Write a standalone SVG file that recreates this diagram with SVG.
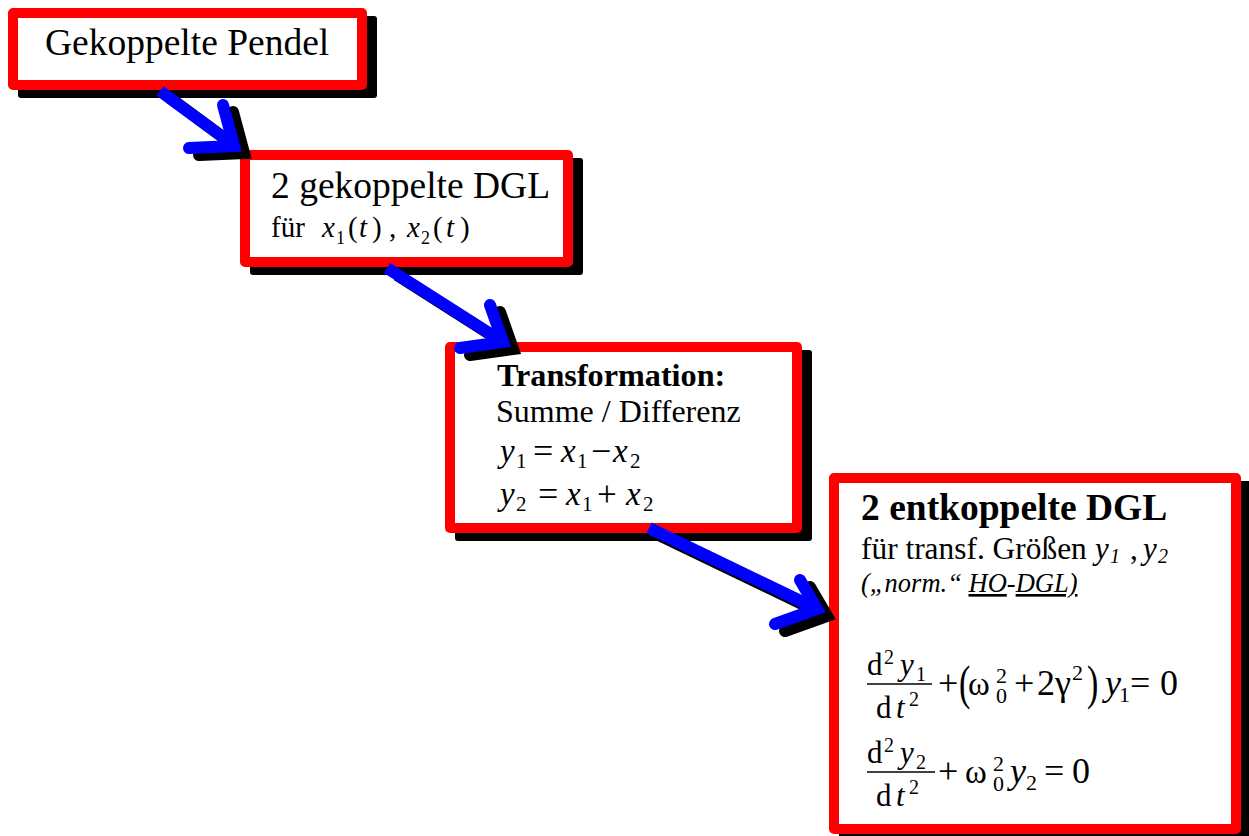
<svg xmlns="http://www.w3.org/2000/svg" width="1249" height="836" viewBox="0 0 1249 836">
<style>
.sh{fill:#000}
.bx{fill:#fff;stroke:#f00;stroke-width:10;stroke-linejoin:round}
text{font-family:"Liberation Serif","Times New Roman",serif;fill:#000}
.i{font-style:italic}
.b{font-weight:bold}
.shaft{fill:none;stroke-width:12;stroke-linecap:butt}
.head{fill:none;stroke-width:12;stroke-linecap:round;stroke-linejoin:miter;stroke-miterlimit:10}
.blue{stroke:#00f}
.blk{stroke:#000}
.frac{stroke:#000;stroke-width:1.4}
</style>
<rect width="1249" height="836" fill="#fff"/>

<g id="node-pendel">
  <rect class="sh" x="18" y="16" width="359" height="82" rx="3"/>
  <rect class="bx" x="13" y="13" width="349" height="72"/>
  <text x="45" y="55" font-size="37.5">Gekoppelte Pendel</text>
</g>

<g id="node-gekoppelte-dgl">
  <rect class="sh" x="250" y="158" width="333" height="117" rx="3"/>
  <rect class="bx" x="245" y="155" width="323" height="107"/>
  <text x="271" y="198" font-size="37.5">2 gekoppelte DGL</text>
  <text x="271" y="237" font-size="29">für</text>
  <text y="237" font-size="29"><tspan class="i" x="322">x</tspan><tspan x="336" y="244" font-size="18">1</tspan><tspan x="348" y="237">(</tspan><tspan class="i" x="359">t</tspan><tspan x="372">)</tspan><tspan x="389">,</tspan><tspan class="i" x="407">x</tspan><tspan x="421" y="244" font-size="18">2</tspan><tspan x="433" y="237">(</tspan><tspan class="i" x="446">t</tspan><tspan x="460">)</tspan></text>
</g>

<g id="node-transformation">
  <rect class="sh" x="455" y="350" width="357" height="191" rx="3"/>
  <rect class="bx" x="450" y="347" width="347" height="181"/>
  <text class="b" x="497" y="386" font-size="32.2">Transformation:</text>
  <text x="496" y="422" font-size="32">Summe / Differenz</text>
  <text y="462" font-size="33"><tspan class="i" x="500">y</tspan><tspan x="516" y="468" font-size="21">1</tspan><tspan x="533" y="463" font-size="36">=</tspan><tspan class="i" x="561" y="462">x</tspan><tspan x="577" y="468" font-size="21">1</tspan><tspan x="591" y="463" font-size="36">−</tspan><tspan class="i" x="613" y="462">x</tspan><tspan x="630" y="468" font-size="21">2</tspan></text>
  <text y="505" font-size="33"><tspan class="i" x="500">y</tspan><tspan x="516" y="511" font-size="21">2</tspan><tspan x="538" y="506" font-size="36">=</tspan><tspan class="i" x="566" y="505">x</tspan><tspan x="582" y="511" font-size="21">1</tspan><tspan x="597" y="506" font-size="35">+</tspan><tspan class="i" x="626" y="505">x</tspan><tspan x="643" y="511" font-size="21">2</tspan></text>
</g>

<g id="node-entkoppelte-dgl">
  <rect class="sh" x="839" y="481" width="412" height="361" rx="3"/>
  <rect class="bx" x="834" y="478" width="402" height="351"/>
  <text class="b" x="861" y="520" font-size="37.5">2 entkoppelte DGL</text>
  <text x="861" y="559" font-size="31.4">für transf. Größen</text>
  <text y="559" font-size="31"><tspan class="i" x="1095">y</tspan><tspan class="i" x="1110" y="563" font-size="20">1</tspan><tspan x="1130" y="559">,</tspan><tspan class="i" x="1143">y</tspan><tspan class="i" x="1158" y="563" font-size="20">2</tspan></text>
  <text class="i" x="861" y="592" font-size="26.5">(„norm.“ <tspan text-decoration="underline">HO</tspan>-<tspan text-decoration="underline">DGL)</tspan></text>

  <!-- equation 1 -->
  <text x="867" y="675" font-size="31">d</text>
  <text x="884" y="664" font-size="20">2</text>
  <text class="i" x="900" y="675" font-size="31">y</text>
  <text x="916" y="681" font-size="20">1</text>
  <line class="frac" x1="867" y1="684" x2="932" y2="684"/>
  <text x="876" y="718" font-size="31">d</text>
  <text class="i" x="896" y="718" font-size="31">t</text>
  <text x="909" y="706" font-size="20">2</text>
  <text x="938" y="695" font-size="36">+</text>
  <text transform="translate(959,699) scale(1,1.45)" font-size="34">(</text>
  <text x="968" y="695" font-size="33">ω</text>
  <text x="996" y="683" font-size="22">2</text>
  <text x="996" y="703" font-size="22">0</text>
  <text x="1014" y="695" font-size="36">+</text>
  <text x="1037" y="695" font-size="36">2γ</text>
  <text x="1072" y="680" font-size="22">2</text>
  <text transform="translate(1087,699) scale(1,1.45)" font-size="34">)</text>
  <text class="i" x="1105" y="695" font-size="36">y</text>
  <text x="1119" y="702" font-size="22">1</text>
  <text x="1130" y="695" font-size="36">=</text>
  <text x="1160" y="695" font-size="36">0</text>

  <!-- equation 2 -->
  <text x="867" y="763" font-size="31">d</text>
  <text x="884" y="752" font-size="20">2</text>
  <text class="i" x="900" y="763" font-size="31">y</text>
  <text x="916" y="769" font-size="20">2</text>
  <line class="frac" x1="867" y1="772" x2="935" y2="772"/>
  <text x="876" y="806" font-size="31">d</text>
  <text class="i" x="896" y="806" font-size="31">t</text>
  <text x="909" y="794" font-size="20">2</text>
  <text x="938" y="783" font-size="36">+</text>
  <text x="965" y="783" font-size="33">ω</text>
  <text x="993" y="771" font-size="22">2</text>
  <text x="993" y="791" font-size="22">0</text>
  <text class="i" x="1010" y="783" font-size="36">y</text>
  <text x="1026" y="790" font-size="22">2</text>
  <text x="1044" y="783" font-size="36">=</text>
  <text x="1072" y="783" font-size="36">0</text>
</g>

<g id="connectors">
  <g transform="translate(10,7)">
    <line class="shaft blk" x1="160" y1="91" x2="232" y2="144"/>
    <polyline class="head blk" points="223,105 234,146 189,148"/>
    <line class="shaft blk" x1="387" y1="268" x2="500" y2="340"/>
    <polyline class="head blk" points="490,305 503,342 460,348"/>
    <line class="shaft blk" x1="649" y1="528" x2="813" y2="607"/>
    <polyline class="head blk" points="800,580 817,609 775,624"/>
  </g>
  <line class="shaft blue" x1="160" y1="91" x2="232" y2="144"/>
  <polyline class="head blue" points="223,105 234,146 189,148"/>
  <line class="shaft blue" x1="387" y1="268" x2="500" y2="340"/>
  <polyline class="head blue" points="490,305 503,342 460,348"/>
  <line class="shaft blue" x1="649" y1="528" x2="813" y2="607"/>
  <polyline class="head blue" points="800,580 817,609 775,624"/>
</g>
</svg>
